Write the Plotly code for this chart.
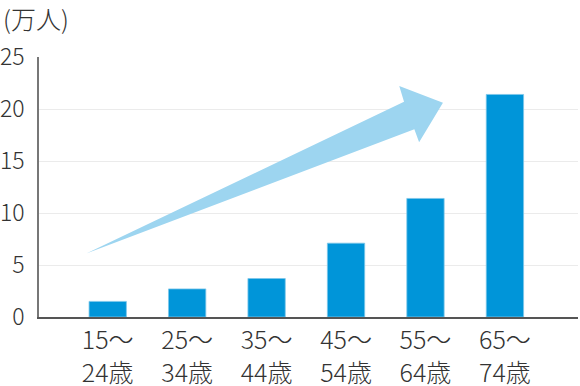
import plotly.graph_objects as go

categories = ["15～<br>24歳", "25～<br>34歳", "35～<br>44歳", "45～<br>54歳", "55～<br>64歳", "65～<br>74歳"]
values = [1.5, 2.7, 3.7, 7.1, 11.4, 21.4]
y_ticks = [0, 5, 10, 15, 20, 25]

# arrow outline in data units (x = category index, y = value)
arrow_x = [-0.27, 3.73, 3.67, 4.22, 3.92, 3.86]
arrow_y = [6.1, 20.7, 22.2, 20.6, 16.8, 18.05]

xs = list(range(len(categories)))
font_family = "Noto Sans CJK JP"

fig = go.Figure()
fig.add_trace(go.Bar(
    x=xs, y=values, width=0.47,
    marker=dict(color="#0095d9", line=dict(color="#7cc6ea", width=0.8)),
    hoverinfo="skip",
))

path = "M " + " L ".join(f"{x},{y}" for x, y in zip(arrow_x, arrow_y)) + " Z"
fig.add_shape(type="path", path=path, xref="x", yref="y",
              fillcolor="#9dd5f0", line=dict(width=0), layer="above")

fig.add_annotation(text="(万人)", xref="paper", yref="paper", x=0, y=1,
                   xanchor="left", yanchor="bottom", showarrow=False,
                   xshift=-38, yshift=19,
                   font=dict(family=font_family, size=25, color="#333", weight=300))

fig.update_layout(
    width=580, height=386,
    margin=dict(l=39, r=2, t=57, b=69),
    paper_bgcolor="white", plot_bgcolor="white",
    showlegend=False, bargap=0.5,
    font=dict(family=font_family, size=22, color="#333", weight=300),
)
fig.update_xaxes(
    range=[-0.865, 5.92], tickvals=xs, ticktext=categories,
    showgrid=False, showline=True, linecolor="#555", linewidth=2,
    ticks="", ticklabelstandoff=0, automargin=False,
    tickfont=dict(size=25, color="#333", family=font_family, weight=300),
    fixedrange=True,
)
fig.update_yaxes(
    range=[0, 25], tickvals=y_ticks, showgrid=True, gridcolor="#ebebeb", gridwidth=1,
    showline=True, linecolor="#777", linewidth=1.5, zeroline=False,
    ticks="", ticklabelstandoff=8, automargin=False,
    tickfont=dict(size=23, color="#333", family=font_family, weight=300),
    fixedrange=True,
)

fig.write_html("out.html")
